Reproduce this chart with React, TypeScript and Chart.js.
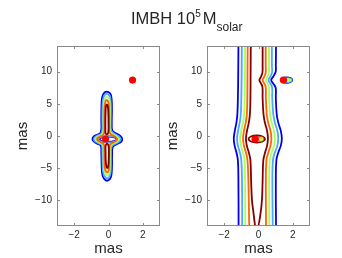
import React, { useEffect, useRef } from 'react';
import { Chart, registerables } from 'chart.js';
Chart.register(...registerables);

const xTicks = [-2, 0, 2];
const yTicks = [-10, -5, 0, 5, 10];
const levelColors = ['#0000ee', '#4ba8ff', '#a6ff5a', '#ff6400', '#820000'];

// ---------- left panel (closed contours) ----------
const leftBlue = [[-0.12,6.9],[0.1,6.6],[0.18,5.8],[0.2,4],[0.19,2],[0.22,0.9],[0.4,0.45],[0.65,0.1],[0.8,-0.4],[0.72,-0.95],[0.45,-1.3],[0.25,-1.7],[0.21,-3],[0.2,-5],[0.14,-6.4],[-0.05,-6.95],[-0.24,-6.7],[-0.36,-6],[-0.4,-4.5],[-0.42,-2.5],[-0.45,-1.5],[-0.68,-1.15],[-0.9,-0.75],[-0.92,-0.3],[-0.75,0.1],[-0.5,0.4],[-0.42,1.0],[-0.42,2.5],[-0.41,4.5],[-0.38,5.9],[-0.28,6.6]];
const leftLBlue = [[-0.12,6.55],[0.06,6.25],[0.12,5.6],[0.14,4],[0.13,2],[0.16,0.8],[0.35,0.35],[0.56,0.02],[0.7,-0.42],[0.63,-0.88],[0.4,-1.2],[0.19,-1.6],[0.15,-3],[0.14,-5],[0.09,-6.1],[-0.05,-6.6],[-0.2,-6.35],[-0.3,-5.8],[-0.34,-4.5],[-0.36,-2.5],[-0.39,-1.42],[-0.62,-1.07],[-0.82,-0.72],[-0.84,-0.32],[-0.68,0.02],[-0.45,0.3],[-0.36,0.9],[-0.36,2.5],[-0.35,4.5],[-0.32,5.7],[-0.24,6.3]];
const leftGreen = [[-0.12,6.1],[0.02,5.85],[0.07,5.3],[0.09,4],[0.08,2],[0.1,0.7],[0.28,0.25],[0.47,-0.05],[0.6,-0.44],[0.54,-0.8],[0.34,-1.1],[0.13,-1.5],[0.09,-3],[0.08,-5],[0.04,-5.8],[-0.06,-6.15],[-0.17,-5.95],[-0.24,-5.5],[-0.28,-4.5],[-0.3,-2.5],[-0.33,-1.35],[-0.55,-1.0],[-0.73,-0.68],[-0.75,-0.35],[-0.6,-0.05],[-0.38,0.2],[-0.3,0.8],[-0.3,2.5],[-0.29,4.5],[-0.26,5.4],[-0.2,5.9]];
const leftOrange = [[-0.12,5.6],[-0.03,5.4],[0.02,4.9],[0.04,4],[0.03,2],[0.05,0.6],[0.2,0.15],[0.38,-0.12],[0.5,-0.46],[0.45,-0.74],[0.28,-1.0],[0.08,-1.4],[0.04,-3],[0.03,-4.8],[0.0,-5.4],[-0.08,-5.7],[-0.15,-5.5],[-0.2,-5.1],[-0.23,-4.5],[-0.24,-2.5],[-0.27,-1.28],[-0.47,-0.95],[-0.64,-0.65],[-0.66,-0.38],[-0.52,-0.12],[-0.32,0.12],[-0.24,0.7],[-0.24,2.5],[-0.23,4.5],[-0.2,5.1],[-0.16,5.45]];
const leftDkRedUp = [[-0.1,4.9],[-0.04,4.6],[-0.01,3.5],[0.0,2],[0.0,1.0],[-0.03,0.4],[-0.1,0.25],[-0.17,0.45],[-0.18,1.2],[-0.18,2.5],[-0.17,3.8],[-0.15,4.6]];
const leftDkRedDown = [[-0.07,-1.2],[0.0,-1.5],[0.02,-2.5],[0.01,-3.8],[-0.02,-4.7],[-0.08,-5.0],[-0.13,-4.7],[-0.16,-3.8],[-0.17,-2.5],[-0.17,-1.6],[-0.13,-1.3]];
const leftHoleBlue = [[0.48,-0.5],[0.33,-0.2],[-0.02,-0.08],[-0.37,-0.2],[-0.52,-0.5],[-0.37,-0.8],[-0.02,-0.92],[0.33,-0.8]];
const leftHoleLBlue = [[0.55,-0.5],[0.38,-0.14],[-0.02,0.0],[-0.42,-0.14],[-0.59,-0.5],[-0.42,-0.86],[-0.02,-1.0],[0.38,-0.86]];
const leftSources = [[-0.17,-0.47],[1.4,8.7]];

// ---------- right panel ----------
const rBlueL = [[-1.17,14],[-1.18,10],[-1.2,6],[-1.23,3.4],[-1.29,2.0],[-1.38,0.8],[-1.44,-0.4],[-1.39,-1.5],[-1.28,-2.6],[-1.2,-3.8],[-1.17,-7],[-1.16,-14]];
const rLBlueL = [[-0.97,14],[-0.98,10],[-1.0,6],[-1.03,3.4],[-1.1,2.0],[-1.19,0.8],[-1.25,-0.4],[-1.2,-1.5],[-1.08,-2.6],[-1.0,-3.8],[-0.96,-7],[-0.95,-14]];
const rGreenL = [[-0.78,14],[-0.79,10],[-0.8,6],[-0.84,3.4],[-0.91,2.0],[-1.01,0.8],[-1.07,-0.4],[-1.02,-1.5],[-0.9,-2.6],[-0.81,-3.8],[-0.78,-7],[-0.77,-14]];
const rOrangeL = [[-0.63,14],[-0.64,10],[-0.65,6],[-0.68,3.4],[-0.75,2.0],[-0.85,0.8],[-0.9,-0.4],[-0.85,-1.5],[-0.73,-2.6],[-0.64,-3.8],[-0.59,-7],[-0.56,-11],[-0.54,-14]];
const rDkRedL = [[-0.45,14],[-0.46,10],[-0.47,6],[-0.5,3.4],[-0.57,2.0],[-0.67,0.8],[-0.73,-0.4],[-0.68,-1.5],[-0.56,-2.6],[-0.47,-3.8],[-0.43,-7],[-0.38,-10],[-0.29,-12],[-0.2,-14]];
const rDkRedR = [[0.0,-14],[0.12,-12],[0.2,-10],[0.24,-7],[0.28,-3.8],[0.38,-2.6],[0.5,-1.5],[0.55,-0.4],[0.5,0.8],[0.38,2.0],[0.29,3.4],[0.24,6],[0.23,7.6],[0.14,8.2],[0.05,8.7],[0.14,9.2],[0.23,9.9],[0.24,11],[0.24,14]];
const rOrangeR = [[0.44,-14],[0.43,-7],[0.46,-3.8],[0.57,-2.6],[0.7,-1.5],[0.75,-0.4],[0.7,0.8],[0.57,2.0],[0.48,3.4],[0.43,6],[0.42,7.6],[0.33,8.2],[0.24,8.7],[0.33,9.2],[0.42,9.9],[0.42,11],[0.42,14]];
const rGreenR = [[0.63,-14],[0.62,-7],[0.65,-3.8],[0.76,-2.6],[0.9,-1.5],[0.95,-0.4],[0.9,0.8],[0.77,2.0],[0.67,3.4],[0.62,6],[0.61,7.6],[0.51,8.2],[0.42,8.7],[0.51,9.2],[0.61,9.9],[0.61,11],[0.61,14]];
const rLBlueR = [[0.83,-14],[0.81,-7],[0.84,-3.8],[0.95,-2.6],[1.1,-1.5],[1.15,-0.4],[1.1,0.8],[0.96,2.0],[0.86,3.4],[0.8,6],[0.79,7.6],[0.68,8.2],[0.58,8.7],[0.68,9.2],[0.79,9.9],[0.78,11],[0.78,14]];
const rBlueR = [[1.02,-14],[1.01,-7],[1.04,-3.8],[1.15,-2.6],[1.3,-1.5],[1.36,-0.4],[1.3,0.8],[1.16,2.0],[1.06,3.4],[1.01,6],[1.0,7.5],[0.86,8.15],[0.74,8.7],[0.86,9.25],[1.0,10],[1.01,11],[1.02,14]];
const rSecBlue = [[1.97,8.7],[1.87,9.0],[1.64,9.12],[1.41,9.0],[1.31,8.7],[1.41,8.4],[1.64,8.28],[1.87,8.4]];
const rSecLBlue = [[1.94,8.7],[1.87,8.91],[1.7,9.0],[1.53,8.91],[1.46,8.7],[1.53,8.49],[1.7,8.4],[1.87,8.49]];
const rSecGreen = [[1.88,8.7],[1.84,8.83],[1.75,8.88],[1.66,8.83],[1.62,8.7],[1.66,8.57],[1.75,8.52],[1.84,8.57]];
const rCenDkRed = [[0.38,-0.47],[0.24,-0.08],[-0.1,0.08],[-0.44,-0.08],[-0.58,-0.47],[-0.44,-0.86],[-0.1,-1.02],[0.24,-0.86]];
const rCenOrange = [[0.28,-0.47],[0.24,-0.27],[0.14,-0.19],[0.04,-0.27],[0.0,-0.47],[0.04,-0.67],[0.14,-0.75],[0.24,-0.67]];
const rCenGreen = [[0.23,-0.47],[0.21,-0.35],[0.15,-0.3],[0.09,-0.35],[0.07,-0.47],[0.09,-0.59],[0.15,-0.64],[0.21,-0.59]];
const rSources = [[-0.2,-0.47],[1.45,8.7]];

const FONT = "'Liberation Sans', Arial, Helvetica, sans-serif";
const TEXT = '#262626';

type Pts = number[][];
const line = (pts: Pts, level: number, loop: boolean) => ({
  data: pts.map(([x, y]) => ({ x, y })),
  showLine: true,
  borderColor: levelColors[level],
  backgroundColor: levelColors[level],
  borderWidth: 1.8,
  pointRadius: 0,
  tension: 0.4,
  fill: false,
  loopLine: loop,
});
const dots = (pts: Pts) => ({
  data: pts.map(([x, y]) => ({ x, y })),
  showLine: false,
  pointRadius: 3.6,
  pointBorderWidth: 0,
  backgroundColor: '#ff0000',
  borderColor: '#ff0000',
});

const leftDatasets = [
  dots(leftSources),
  line(leftDkRedUp, 4, true), line(leftDkRedDown, 4, true),
  line(leftOrange, 3, true),
  line(leftGreen, 2, true),
  line(leftHoleLBlue, 1, true), line(leftLBlue, 1, true),
  line(leftHoleBlue, 0, true), line(leftBlue, 0, true),
];
const rightDatasets = [
  dots(rSources),
  line(rCenGreen, 2, true), line(rCenOrange, 3, true), line(rCenDkRed, 4, true),
  line(rDkRedL, 4, false), line(rDkRedR, 4, false),
  line(rOrangeL, 3, false), line(rOrangeR, 3, false),
  line(rSecGreen, 2, true), line(rGreenL, 2, false), line(rGreenR, 2, false),
  line(rSecLBlue, 1, true), line(rLBlueL, 1, false), line(rLBlueR, 1, false),
  line(rSecBlue, 0, true), line(rBlueL, 0, false), line(rBlueR, 0, false),
];

const loopPlugin = {
  id: 'loopPlugin',
  afterDatasetUpdate(chart: any, args: any) {
    const ds = chart.data.datasets[args.index];
    if (ds && ds.loopLine && args.meta.dataset) {
      args.meta.dataset._loop = true;
      args.meta.dataset._fullLoop = true;
    }
  },
};

const boxPlugin = {
  id: 'boxPlugin',
  afterDraw(chart: any) {
    const { ctx, chartArea: a, scales } = chart;
    ctx.save();
    ctx.strokeStyle = '#8a8a8a';
    ctx.lineWidth = 1;
    ctx.strokeRect(a.left + 0.5, a.top + 0.5, a.right - a.left - 1, a.bottom - a.top - 1);
    const tl = 3;
    ctx.beginPath();
    xTicks.forEach((v) => {
      const px = Math.round(scales.x.getPixelForValue(v)) + 0.5;
      ctx.moveTo(px, a.bottom); ctx.lineTo(px, a.bottom - tl);
      ctx.moveTo(px, a.top); ctx.lineTo(px, a.top + tl);
    });
    yTicks.forEach((v) => {
      const py = Math.round(scales.y.getPixelForValue(v)) + 0.5;
      ctx.moveTo(a.left, py); ctx.lineTo(a.left + tl, py);
      ctx.moveTo(a.right, py); ctx.lineTo(a.right - tl, py);
    });
    ctx.stroke();
    ctx.restore();
  },
};

const fmt = (v: any) => String(v).replace('-', '\u2212');

const makeConfig = (datasets: any[], padLeft: number, padRight: number): any => ({
  type: 'scatter',
  data: { datasets },
  options: {
    animation: false,
    responsive: false,
    maintainAspectRatio: false,
    events: [],
    layout: { padding: { left: padLeft, right: padRight, top: 46, bottom: 0 } },
    plugins: { legend: { display: false }, tooltip: { enabled: false }, title: { display: false } },
    scales: {
      x: {
        type: 'linear', min: -3, max: 3,
        afterBuildTicks: (s: any) => { s.ticks = xTicks.map((value) => ({ value })); },
        afterFit: (s: any) => { s.height = 32; },
        grid: { display: false, drawTicks: false },
        border: { display: false },
        ticks: { padding: 3, font: { family: FONT, size: 10 }, color: TEXT, callback: fmt, maxRotation: 0 },
        title: { display: true, text: 'mas', font: { family: FONT, size: 15 }, color: TEXT, padding: { top: 8, bottom: 0 } },
      },
      y: {
        type: 'linear', min: -14, max: 14,
        afterBuildTicks: (s: any) => { s.ticks = yTicks.map((value) => ({ value })); },
        afterFit: (s: any) => { s.width = 57; },
        grid: { display: false, drawTicks: false },
        border: { display: false },
        ticks: { padding: 5, font: { family: FONT, size: 10 }, color: TEXT, callback: fmt },
        title: { display: true, text: 'mas', font: { family: FONT, size: 15 }, color: TEXT, padding: { top: 14, bottom: 0 } },
      },
    },
  },
  plugins: [loopPlugin, boxPlugin],
});

export default function App() {
  const ref1 = useRef<HTMLCanvasElement>(null);
  const ref2 = useRef<HTMLCanvasElement>(null);
  useEffect(() => {
    const c1 = new Chart(ref1.current as HTMLCanvasElement, makeConfig(leftDatasets, 0, 182));
    const c2 = new Chart(ref2.current as HTMLCanvasElement, makeConfig(rightDatasets, 150, 32));
    return () => { c1.destroy(); c2.destroy(); };
  }, []);
  const canvasStyle: React.CSSProperties = { position: 'absolute', left: 0, top: 0, width: 342, height: 258 };
  return (
    <div style={{ position: 'fixed', left: 0, top: 0, width: 342, height: 258, background: '#fff', overflow: 'hidden' }}>
      <canvas ref={ref1} width={342} height={258} style={canvasStyle} />
      <canvas ref={ref2} width={342} height={258} style={canvasStyle} />
      <div style={{ position: 'absolute', left: 131, top: 8.3, fontFamily: FONT, color: TEXT, fontSize: 16.5, lineHeight: '20px', whiteSpace: 'nowrap' }}>
        IMBH 10<span style={{ fontSize: 10, position: 'relative', top: -7.3 }}>5</span>
        <span style={{ marginLeft: 2 }}>M</span>
        <span style={{ fontSize: 12, position: 'relative', top: 7 }}>solar</span>
      </div>
    </div>
  );
}
